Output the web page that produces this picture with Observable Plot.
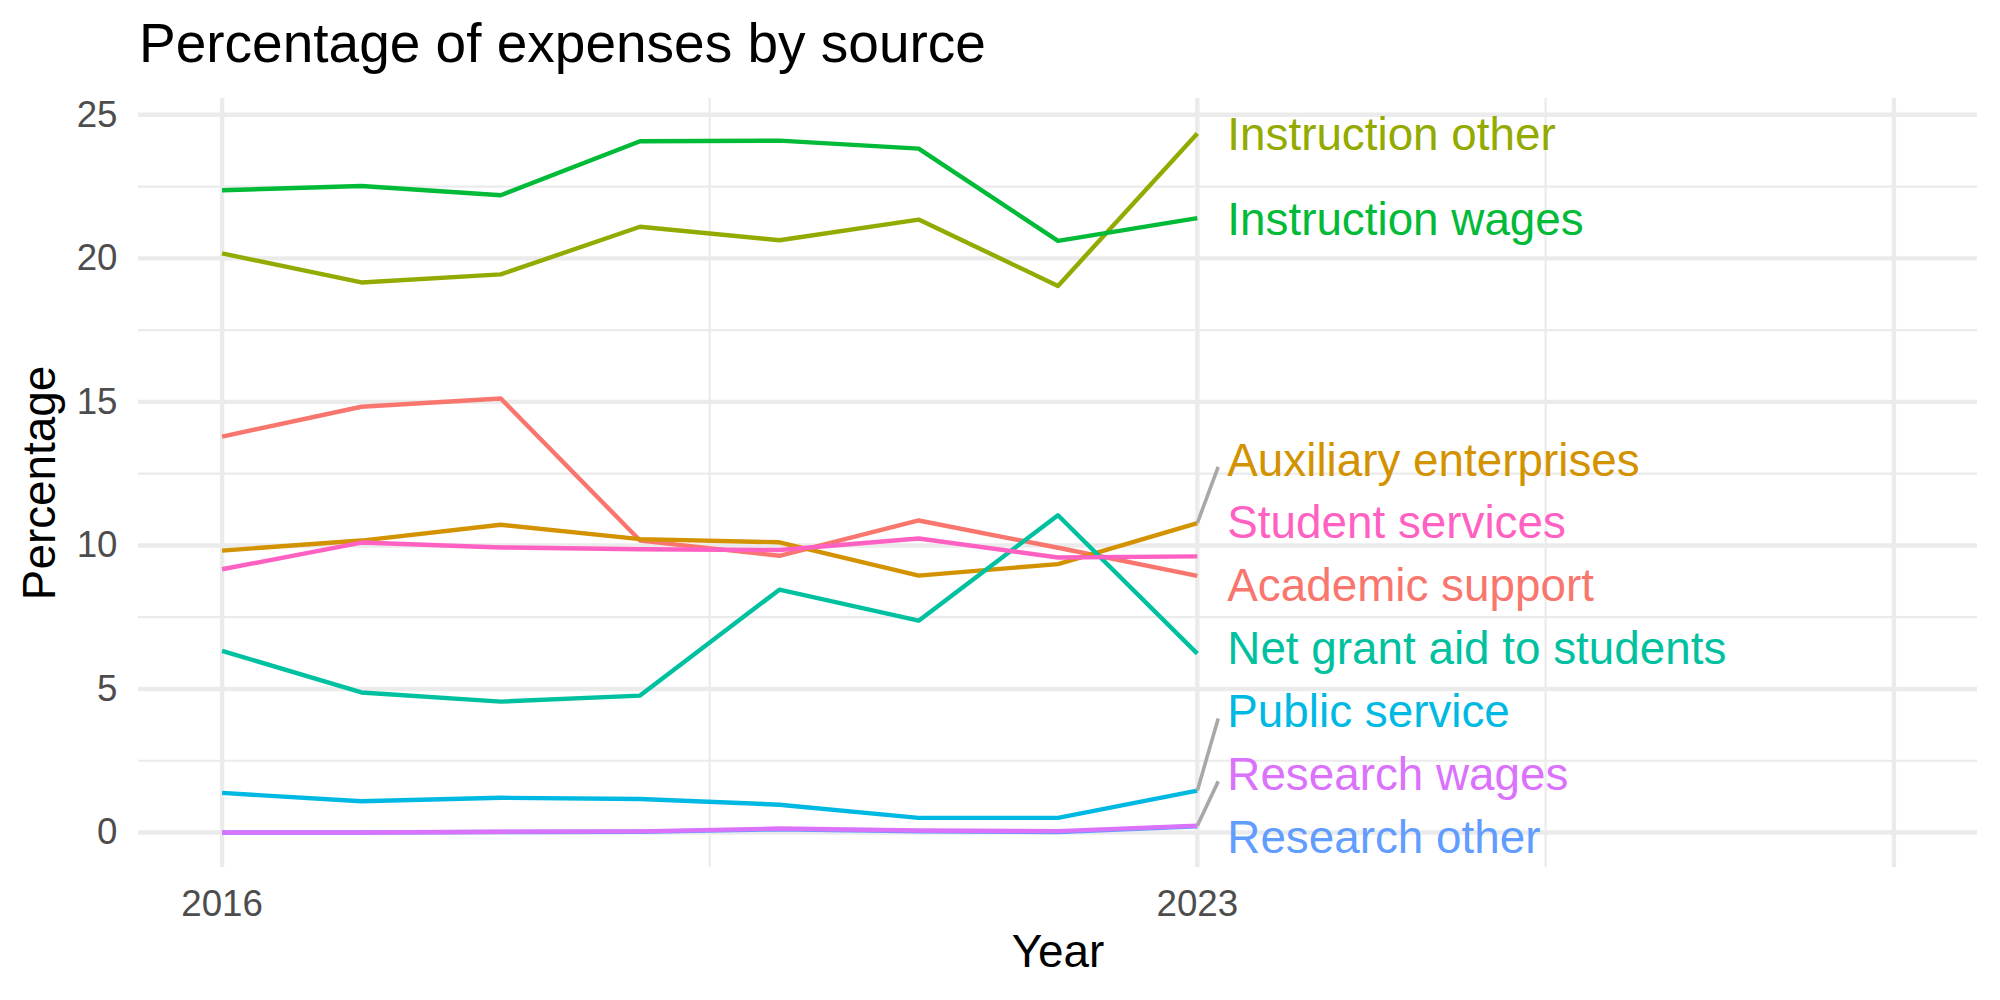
<!DOCTYPE html>
<html>
<head>
<meta charset="utf-8">
<script src="https://cdn.jsdelivr.net/npm/d3@7"></script>
<script src="https://cdn.jsdelivr.net/npm/@observablehq/plot@0.6"></script>
<style>
  body { margin: 0; background: #fff; font-family: "Liberation Sans", Arial, Helvetica, sans-serif; }
  #title { height: 90px; box-sizing: border-box; padding: 16px 0 0 139px; font-size: 55px; line-height: 55px; color: #000; white-space: nowrap; }
  #chart svg { display: block; }
</style>
</head>
<body>
<div id="title">Percentage of expenses by source</div>
<div id="chart"></div>
<script>
// Years covered by the data
const years = [2016, 2017, 2018, 2019, 2020, 2021, 2022, 2023];

// Expense categories (alphabetical, as drawn) and their colours
const series = [
  "Academic support", "Auxiliary enterprises", "Instruction other", "Instruction wages",
  "Net grant aid to students", "Public service", "Research other", "Research wages", "Student services"
];
const seriesColors = ["#F8766D", "#D39200", "#93AA00", "#00BA38", "#00C19F", "#00B9E3", "#619CFF", "#DB72FB", "#FF61C3"];

// Percentage of expenses, one value per year
const academicSupport      = [13.79, 14.83, 15.12, 10.17, 9.64, 10.87, 9.92, 8.94];
const auxiliaryEnterprises = [9.82, 10.17, 10.72, 10.22, 10.11, 8.95, 9.35, 10.78];
const instructionOther     = [20.17, 19.16, 19.44, 21.10, 20.63, 21.35, 19.04, 24.35];
const instructionWages     = [22.37, 22.52, 22.20, 24.08, 24.10, 23.82, 20.61, 21.40];
const netGrantAid          = [6.33, 4.88, 4.56, 4.77, 8.46, 7.38, 11.05, 6.23];
const publicService        = [1.38, 1.09, 1.21, 1.17, 0.97, 0.51, 0.51, 1.46];
const researchOther        = [0.00, 0.00, 0.02, 0.03, 0.11, 0.04, 0.02, 0.22];
const researchWages        = [0.00, 0.00, 0.03, 0.04, 0.14, 0.07, 0.05, 0.24];
const studentServices      = [9.17, 10.10, 9.93, 9.87, 9.84, 10.24, 9.58, 9.62];

// Axis breaks
const xLimits = [2016, 2028];
const xTicks = [2016, 2023];
const xMajorGrid = [2016, 2023, 2028];
const xMinorGrid = [2019.5, 2025.5];
const yTicks = [0, 5, 10, 15, 20, 25];
const yMinorGrid = [2.5, 7.5, 12.5, 17.5, 22.5];

const seriesValues = [
  academicSupport, auxiliaryEnterprises, instructionOther, instructionWages,
  netGrantAid, publicService, researchOther, researchWages, studentServices
];

// Long table for the line mark
const rows = series.flatMap((s, i) => years.map((year, j) => ({series: s, year, value: seriesValues[i][j]})));

// 5% expansion on both scales
const expand = ([a, b]) => [a - 0.05 * (b - a), b + 0.05 * (b - a)];
const xDomain = expand(xLimits);
const yDomain = expand(d3.extent(rows, d => d.value));

// Direct labels at the last year, pushed apart so they do not overlap
const lastYear = years[years.length - 1];
const LABEL_GAP = 2.19;   // minimum vertical distance between labels (y units)
const LABEL_PAD = 1.09;   // half label height kept inside the panel (y units)
const labels = d3.sort(
  series.map((s, i) => ({series: s, end: seriesValues[i][years.length - 1]})),
  d => d.end
);
labels.forEach(d => d.pos = d.end);
const lo = yDomain[0] + LABEL_PAD, hi = yDomain[1] - LABEL_PAD;
for (let it = 0; it < 6000; ++it) {
  for (let i = 0; i < labels.length - 1; ++i) {
    const a = labels[i], b = labels[i + 1];
    const d = b.pos - a.pos;
    if (d < LABEL_GAP) { const s = (LABEL_GAP - d) / 2; a.pos -= s; b.pos += s; }
  }
  for (const d of labels) d.pos = Math.max(lo, Math.min(hi, d.pos));
}

// Leader segments for labels moved far from their line end
const SEG_RUN = 0.15, SEG_DROP = 0.28, SEG_MIN = 1.5;
const segments = labels
  .filter(d => Math.abs(d.pos - d.end) > SEG_MIN)
  .map(d => ({x1: lastYear, y1: d.end, x2: lastYear + SEG_RUN, y2: d.pos - SEG_DROP}));

const grid = "#EBEBEB";
const chart = Plot.plot({
  width: 2000,
  height: 910,
  marginTop: 8,
  marginBottom: 133,
  marginLeft: 138,
  marginRight: 23,
  style: {fontFamily: "'Liberation Sans', Arial, Helvetica, sans-serif", background: "#fff", overflow: "visible"},
  x: {domain: xDomain, axis: null},
  y: {domain: yDomain, axis: null},
  color: {domain: series, range: seriesColors},
  marks: [
    Plot.ruleY(yMinorGrid, {stroke: grid, strokeWidth: 2.2}),
    Plot.ruleX(xMinorGrid, {stroke: grid, strokeWidth: 2.2}),
    Plot.ruleY(yTicks, {stroke: grid, strokeWidth: 4.4}),
    Plot.ruleX(xMajorGrid, {stroke: grid, strokeWidth: 4.4}),
    Plot.axisY(yTicks, {tickSize: 0, tickPadding: 21, fontSize: 36.7, color: "#4D4D4D", label: null}),
    Plot.axisX(xTicks, {tickSize: 0, tickPadding: 22, fontSize: 36.7, color: "#4D4D4D", label: null, tickFormat: d => String(d)}),
    Plot.line(rows, {x: "year", y: "value", z: "series", stroke: "series", strokeWidth: 4.4, strokeLinecap: "butt", strokeLinejoin: "round"}),
    Plot.link(segments, {x1: "x1", y1: "y1", x2: "x2", y2: "y2", stroke: "#A8A8A8", strokeWidth: 3.6, strokeLinecap: "butt"}),
    Plot.text(labels, {x: () => lastYear, y: "pos", text: "series", fill: "series", textAnchor: "start", dx: 30, dy: 2, fontSize: 45.8}),
    Plot.text(["Year"], {text: d => d, frameAnchor: "bottom", textAnchor: "middle", lineAnchor: "middle", dy: 85, fontSize: 45.8, fill: "#000"}),
    Plot.text(["Percentage"], {text: d => d, frameAnchor: "left", textAnchor: "middle", lineAnchor: "middle", rotate: -90, dx: -98, fontSize: 45.8, fill: "#000"})
  ]
});
document.getElementById("chart").appendChild(chart);
</script>
</body>
</html>
